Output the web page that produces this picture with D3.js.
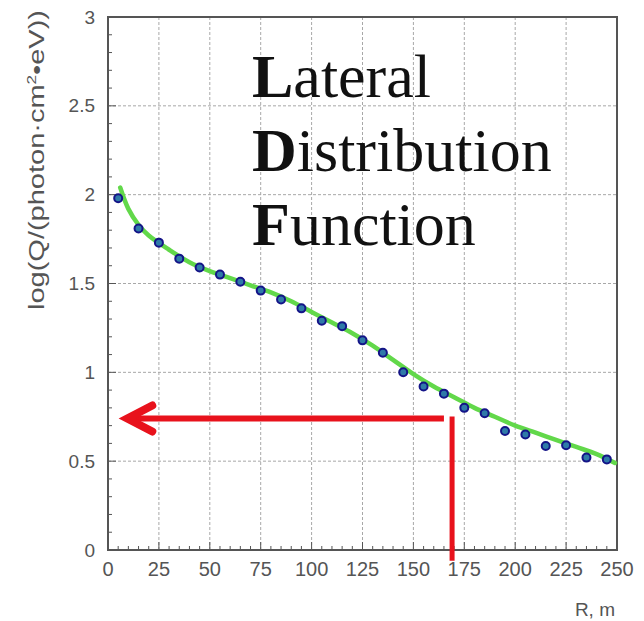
<!DOCTYPE html>
<html>
<head>
<meta charset="utf-8">
<script src="https://cdn.jsdelivr.net/npm/d3@7"></script>
<style>
  html, body { margin: 0; padding: 0; background: #fff; }
  svg { display: block; }
</style>
</head>
<body>
<div id="chart"></div>
<script>
// --- Data ---
const pointR = [5, 15, 25, 35, 45, 55, 65, 75, 85, 95, 105, 115, 125, 135, 145, 155, 165, 175, 185, 195, 205, 215, 225, 235, 245];
const pointQ = [1.98, 1.81, 1.73, 1.64, 1.59, 1.55, 1.51, 1.46, 1.41, 1.36, 1.29, 1.26, 1.18, 1.11, 1.00, 0.92, 0.88, 0.80, 0.77, 0.67, 0.65, 0.585, 0.59, 0.52, 0.51];

const fitR = [6, 10, 15, 20, 30, 40, 50, 60, 70, 80, 90, 100, 110, 120, 130, 140, 150, 160, 170, 180, 190, 200, 210, 220, 230, 240, 249];
const fitQ = [2.04, 1.92, 1.83, 1.77, 1.69, 1.62, 1.57, 1.53, 1.49, 1.45, 1.40, 1.34, 1.28, 1.22, 1.15, 1.07, 0.99, 0.92, 0.86, 0.80, 0.75, 0.70, 0.66, 0.62, 0.58, 0.54, 0.49];

const xTicks = [0, 25, 50, 75, 100, 125, 150, 175, 200, 225, 250];
const yTicks = [0, 0.5, 1, 1.5, 2, 2.5, 3];
const yTickLabels = ["0", "0.5", "1", "1.5", "2", "2.5", "3"];

// red arrow: horizontal at Q=0.74 from R=165 to R=8, vertical at R=169 down below axis
const arrowQ = 0.74;
const arrowFrom = 165;
const arrowTo = 8;
const dropR = 169;
const dropBottom = -0.06;

const titleLines = [["L", "ateral"], ["D", "istribution"], ["F", "unction"]];

// --- Layout ---
const W = 644, H = 621;
const margin = { top: 17, right: 27, bottom: 71, left: 108 };

const svg = d3.select("#chart").append("svg")
  .attr("width", W).attr("height", H);

const x = d3.scaleLinear().domain([0, 250]).range([margin.left, W - margin.right]);
const y = d3.scaleLinear().domain([0, 3]).range([H - margin.bottom, margin.top]);

// Grid
const grid = svg.append("g")
  .attr("stroke", "#a8a8a8")
  .attr("stroke-width", 1)
  .attr("stroke-dasharray", "3,2");
grid.selectAll(".gx").data(xTicks.slice(1, -1)).join("line")
  .attr("x1", (d) => x(d)).attr("x2", (d) => x(d))
  .attr("y1", y(0)).attr("y2", y(3));
grid.selectAll(".gy").data(yTicks.slice(1, -1)).join("line")
  .attr("y1", (d) => y(d)).attr("y2", (d) => y(d))
  .attr("x1", x(0)).attr("x2", x(250));

// Minor ticks (inside)
const ticks = svg.append("g").attr("stroke", "#555").attr("stroke-width", 1);
ticks.selectAll(".mx").data(d3.range(0, 251, 5)).join("line")
  .attr("x1", (d) => x(d)).attr("x2", (d) => x(d))
  .attr("y1", y(0)).attr("y2", (d) => y(0) - (d % 25 === 0 ? 8 : 4));
ticks.selectAll(".my").data(d3.range(0, 31, 1)).join("line")
  .attr("y1", (d) => y(d / 10)).attr("y2", (d) => y(d / 10))
  .attr("x1", x(0)).attr("x2", (d) => x(0) + (d % 5 === 0 ? 8 : 4));

// Frame
svg.append("rect")
  .attr("x", x(0)).attr("y", y(3))
  .attr("width", x(250) - x(0)).attr("height", y(0) - y(3))
  .attr("fill", "none").attr("stroke", "#555").attr("stroke-width", 2);

// Tick labels
const labelFont = "'Liberation Sans', Arial, sans-serif";
svg.append("g").selectAll("text").data(xTicks).join("text")
  .attr("x", (d) => x(d)).attr("y", y(0) + 26)
  .attr("text-anchor", "middle")
  .attr("font-family", labelFont).attr("font-size", 20)
  .attr("fill", "#555")
  .text((d) => d);

svg.append("g").selectAll("text").data(yTicks).join("text")
  .attr("x", x(0) - 13).attr("y", (d) => y(d))
  .attr("dy", "0.35em")
  .attr("text-anchor", "end")
  .attr("font-family", labelFont).attr("font-size", 19)
  .attr("fill", "#555")
  .text((d, i) => yTickLabels[i]);

// Axis titles
svg.append("text")
  .attr("x", x(250) - 2).attr("y", H - 5)
  .attr("text-anchor", "end")
  .attr("font-family", labelFont).attr("font-size", 19)
  .attr("fill", "#555")
  .text("R, m");

const yTitle = svg.append("text")
  .attr("transform", `translate(44, 160) rotate(-90)`)
  .attr("text-anchor", "middle")
  .attr("font-family", labelFont).attr("font-size", 22)
  .attr("fill", "#555")
  .attr("textLength", 300)
  .attr("lengthAdjust", "spacingAndGlyphs");
yTitle.append("tspan").text("log(Q/(photon·cm");
yTitle.append("tspan").attr("dy", -8).attr("font-size", 13).text("2");
yTitle.append("tspan").attr("dy", 8).text("•eV))");

// Big title text
const title = svg.append("g")
  .attr("font-family", "'Liberation Serif', 'Times New Roman', serif")
  .attr("font-size", 62)
  .attr("fill", "#111");
titleLines.forEach((parts, i) => {
  const t = title.append("text").attr("x", 252).attr("y", 97 + i * 74);
  t.append("tspan").attr("font-weight", "bold").text(parts[0]);
  t.append("tspan").text(parts[1]);
});

// Fit line
const line = d3.line().x((d, i) => x(fitR[i])).y((d) => y(d)).curve(d3.curveCatmullRom);
svg.append("path")
  .datum(fitQ)
  .attr("d", line)
  .attr("fill", "none")
  .attr("stroke", "#62d84a")
  .attr("stroke-width", 4.5)
  .attr("stroke-linecap", "round");

// Data points
svg.append("g").selectAll("circle").data(pointQ).join("circle")
  .attr("cx", (d, i) => x(pointR[i]))
  .attr("cy", (d) => y(d))
  .attr("r", 4)
  .attr("fill", "#2f7aa8")
  .attr("stroke", "#141488")
  .attr("stroke-width", 2);

// Red arrow
const red = "#e8121c";
const arrow = svg.append("g").attr("stroke", red).attr("fill", "none");
arrow.append("line")
  .attr("x1", x(arrowFrom)).attr("x2", x(arrowTo) + 8)
  .attr("y1", y(arrowQ)).attr("y2", y(arrowQ))
  .attr("stroke-width", 6);
arrow.append("polyline")
  .attr("points", [
    [x(arrowTo) + 28, y(arrowQ) - 13],
    [x(arrowTo) + 3, y(arrowQ)],
    [x(arrowTo) + 28, y(arrowQ) + 13]
  ].map((p) => p.join(",")).join(" "))
  .attr("stroke-width", 8)
  .attr("stroke-linejoin", "miter")
  .attr("stroke-linecap", "round");
arrow.append("line")
  .attr("x1", x(dropR)).attr("x2", x(dropR))
  .attr("y1", y(arrowQ) - 2).attr("y2", y(dropBottom))
  .attr("stroke-width", 5);
</script>
</body>
</html>
